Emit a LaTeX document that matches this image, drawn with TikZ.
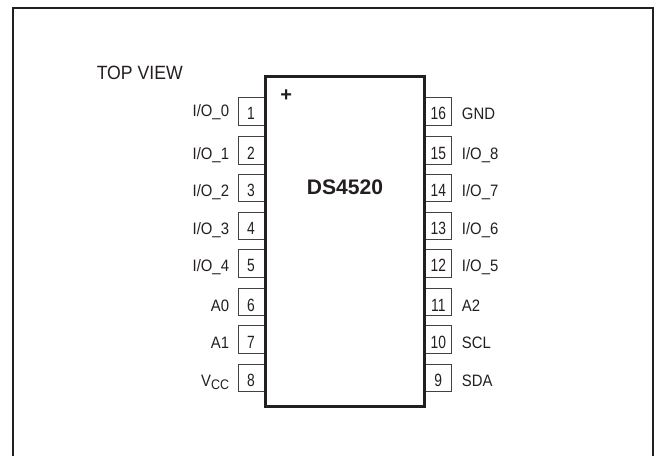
\documentclass[tikz,border=0pt]{standalone}
\usepackage{fontspec}
\usepackage{graphicx}
\setmainfont{Liberation Sans}
\definecolor{ink}{HTML}{231F20}
\newcommand{\narrowtxt}[1]{\scalebox{0.9}[1]{#1}}
\newcommand{\narrownum}[1]{\scalebox{0.78}[1]{#1}}
\tikzset{
  frameline/.style={draw=ink,line width=1.1pt,line cap=butt,line join=miter},
  chip/.style={draw=ink,fill=white,line width=2pt,rectangle,inner sep=0pt,minimum width=119.25pt,minimum height=247.5pt},
  pinbox/.style={draw=ink!85,line width=0.8pt,fill=white,rectangle,inner sep=0pt,minimum width=20.5pt,minimum height=20.5pt},
  pintext/.style={inner sep=0pt,text=ink,font=\fontsize{12.4}{14}\selectfont},
  pinnum/.style={inner sep=0pt,text=ink,font=\fontsize{13.3}{15}\selectfont,anchor=base},
  leftlab/.style={pintext,anchor=base east},
  rightlab/.style={pintext,anchor=base west},
}
\begin{document}
\begin{tikzpicture}[x=0.75pt,y=-0.75pt]
\useasboundingbox (0,0) rectangle (656,456);
\fill[white] (0,0) rectangle (656,456);
\coordinate (fa) at (13,456);
\coordinate (fb) at (13,8);
\coordinate (fc) at (653,8);
\coordinate (fd) at (653,456);
\draw[frameline] (fa) -- (fb) -- (fc) -- (fd);
\node[inner sep=0pt,anchor=base west,text=ink,font=\fontsize{14.4}{16}\selectfont] (topview) at (96.5,79.3) {\scalebox{0.92}[1]{TOP VIEW}};
% left pins: number, top edge, baseline, label
\foreach \n/\t/\b/\lb/\lab in {
 1/97.7/120/116.7/{I/O\_0},
 2/136.7/159.3/159.3/{I/O\_1},
 3/174/196.7/196.7/{I/O\_2},
 4/212/234.3/234.3/{I/O\_3},
 5/249.7/271.7/271.7/{I/O\_4},
 6/288.3/311/311/{A0},
 7/325.7/348.3/348.3/{A1},
 8/364.3/386.7/386.7/{V\raisebox{-1.9pt}{\fontsize{10.4}{11}\selectfont CC}}}{
  \node[pinbox] (p\n) at (252.5,\t+13.7) {};
  \node[pinnum] (n\n) at (251,\b) {\narrownum{\n}};
  \node[leftlab] (l\n) at (229.3,\lb) {\narrowtxt{\lab}};
}
% right pins
\foreach \n/\t/\b/\lab in {
 16/97.7/120/{GND},
 15/136.7/159.3/{I/O\_8},
 14/174/196.7/{I/O\_7},
 13/212/234.3/{I/O\_6},
 12/249.7/271.7/{I/O\_5},
 11/288.3/311/{A2},
 10/325.7/348/{SCL},
 9/364.3/386/{SDA}}{
  \node[pinbox] (p\n) at (438,\t+13.7) {};
  \node[pinnum] (n\n) at (438.3,\b) {\narrownum{\n}};
  \node[rightlab] (l\n) at (461.7,\b) {\narrowtxt{\lab}};
}
\node[chip] (ic) at (344.7,241.5) {};
\node[inner sep=0pt,anchor=base,text=ink,font=\fontsize{15.8}{18}\selectfont\bfseries] (name) at (345,194) {DS4520};
\node[inner sep=0pt,text=ink,font=\fontsize{15}{18}\selectfont\bfseries] (plus) at (286.3,95.7) {+};
\end{tikzpicture}
\end{document}
